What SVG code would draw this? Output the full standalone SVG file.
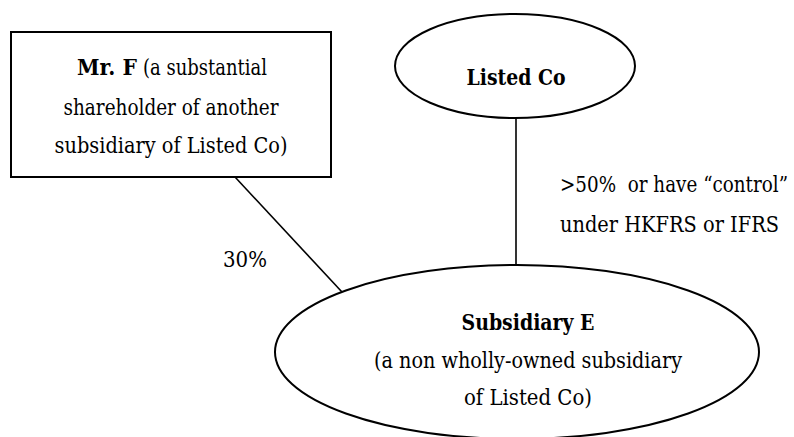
<svg xmlns="http://www.w3.org/2000/svg" width="794" height="437" viewBox="0 0 794 437">
  <style>
    .c { text-anchor: middle; }
    .b { font-weight: bold; }
    .shape { fill: #fff; stroke: #000; stroke-width: 2; }
    .link { stroke: #000; stroke-width: 1.6; fill: none; }
  </style>
  <rect width="794" height="437" fill="#fff"/>

  <g font-family="'DejaVu Serif', 'Liberation Serif', serif" font-size="22" fill="#000">
    <g id="connectors">
      <line class="link" x1="516" y1="118" x2="516" y2="265"/>
      <line class="link" x1="235" y1="177" x2="342" y2="292"/>
      <text x="223" y="267" textLength="44" lengthAdjust="spacingAndGlyphs">30%</text>
      <text x="560" y="192" textLength="228" lengthAdjust="spacingAndGlyphs" xml:space="preserve">&gt;50%  or have “control”</text>
      <text x="560" y="232" textLength="219" lengthAdjust="spacingAndGlyphs">under HKFRS or IFRS</text>
    </g>

    <g id="mr-f">
      <rect class="shape" x="11" y="32" width="320" height="145"/>
      <text class="b" x="77" y="75" textLength="60" lengthAdjust="spacingAndGlyphs">Mr. F</text>
      <text x="143" y="75" textLength="124" lengthAdjust="spacingAndGlyphs">(a substantial</text>
      <text class="c" x="171" y="115" textLength="215" lengthAdjust="spacingAndGlyphs">shareholder of another</text>
      <text class="c" x="171" y="153" textLength="233" lengthAdjust="spacingAndGlyphs">subsidiary of Listed Co)</text>
    </g>

    <g id="listed-co">
      <ellipse class="shape" cx="515" cy="66" rx="120" ry="52"/>
      <text class="c b" x="516" y="85" textLength="99" lengthAdjust="spacingAndGlyphs">Listed Co</text>
    </g>

    <g id="subsidiary-e">
      <ellipse class="shape" cx="517" cy="352" rx="242" ry="87"/>
      <text class="c b" x="528" y="330" textLength="133" lengthAdjust="spacingAndGlyphs">Subsidiary E</text>
      <text class="c" x="528" y="368" textLength="308" lengthAdjust="spacingAndGlyphs">(a non wholly-owned subsidiary</text>
      <text class="c" x="528" y="405" textLength="128" lengthAdjust="spacingAndGlyphs">of Listed Co)</text>
    </g>
  </g>
</svg>
